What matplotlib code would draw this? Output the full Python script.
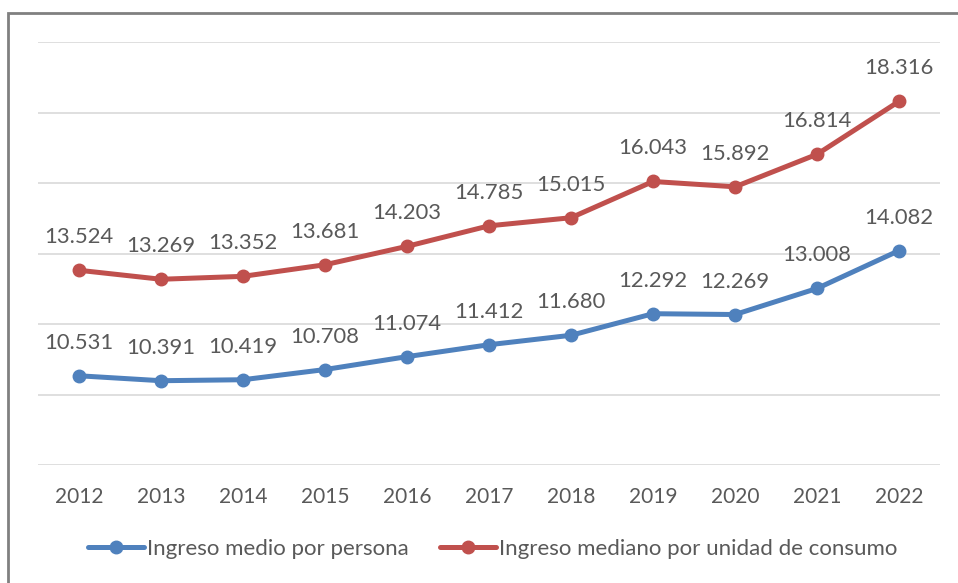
import matplotlib.pyplot as plt
from matplotlib.patches import Rectangle

anios = ["2012", "2013", "2014", "2015", "2016", "2017", "2018", "2019", "2020", "2021", "2022"]
ingreso_medio = [10531, 10391, 10419, 10708, 11074, 11412, 11680, 12292, 12269, 13008, 14082]
ingreso_mediano = [13524, 13269, 13352, 13681, 14203, 14785, 15015, 16043, 15892, 16814, 18316]

azul = "#4F81BD"
rojo = "#C0504D"
gris = "#595959"

plt.rcParams['font.family'] = ['Lato', 'DejaVu Sans']

def fmt(v):
    # formato espanol: punto como separador de miles
    return "{:,}".format(v).replace(",", ".")

fig = plt.figure(figsize=(9.58, 5.83), dpi=100)
ax = fig.add_axes([38/958, 1-465/583, (940-38)/958, (465-42)/583])

x = list(range(len(anios)))
ax.plot(x, ingreso_medio, color=azul, lw=3.6, marker="o", ms=9, solid_capstyle="round",
        label="Ingreso medio por persona")
ax.plot(x, ingreso_mediano, color=rojo, lw=3.6, marker="o", ms=9, solid_capstyle="round",
        label="Ingreso mediano por unidad de consumo")

for i in x:
    ax.annotate(fmt(ingreso_medio[i]), (i, ingreso_medio[i]), xytext=(0, 33),
                textcoords="offset pixels", ha="center", va="center", fontsize=15.8, color=gris)
    ax.annotate(fmt(ingreso_mediano[i]), (i, ingreso_mediano[i]), xytext=(0, 33),
                textcoords="offset pixels", ha="center", va="center", fontsize=15.8, color=gris)

ax.set_xlim(-0.5, len(anios) - 0.5)
ax.set_ylim(8000, 20000)
ax.set_yticks(range(8000, 20001, 2000))
ax.yaxis.grid(True, color="#d9d9d9", lw=1.2)
ax.set_axisbelow(True)
ax.tick_params(axis="y", left=False, labelleft=False)
ax.set_xticks(x)
ax.set_xticklabels(anios, fontsize=15, color=gris)
ax.tick_params(axis="x", bottom=False, pad=12)
for s in ax.spines.values():
    s.set_visible(False)

leg = fig.legend(loc="center", bbox_to_anchor=(493/958, 1-549/583), ncol=2, frameon=False,
                 fontsize=16, handlelength=2.5, handletextpad=0.15, columnspacing=1.4)
for t in leg.get_texts():
    t.set_color(gris)

fig.patches.append(Rectangle((8/958, -0.1), 1.2, 1.1 - 13/583, transform=fig.transFigure,
                             fill=False, edgecolor="#808080", lw=2, clip_on=False))

fig.savefig("out.png", dpi=100)
